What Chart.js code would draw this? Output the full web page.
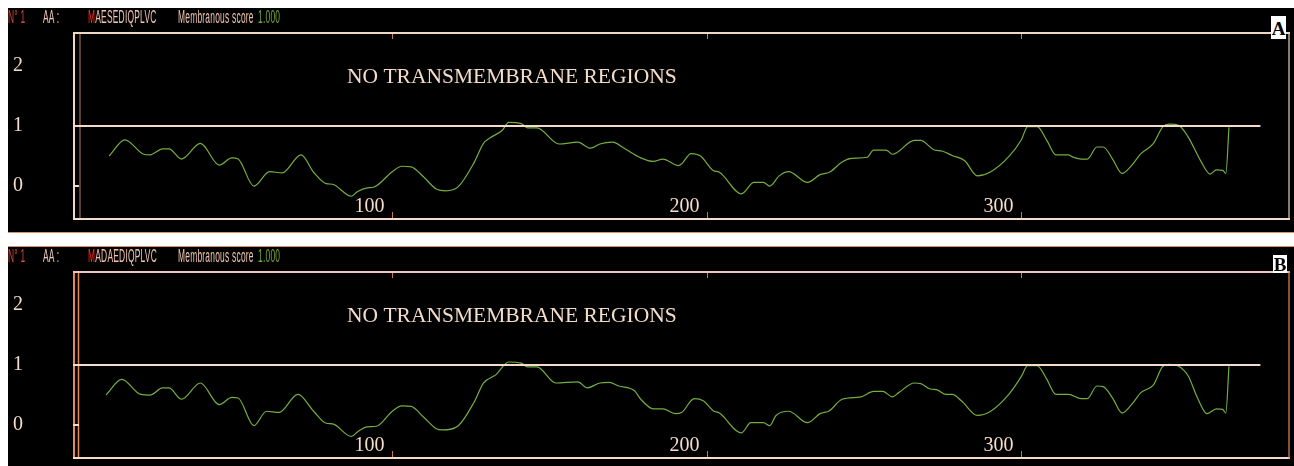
<!DOCTYPE html>
<html>
<head>
<meta charset="utf-8">
<script src="https://cdn.jsdelivr.net/npm/chart.js@4.4.1/dist/chart.umd.min.js"></script>
<style>
  html, body { margin: 0; padding: 0; background: #fff; width: 1294px; height: 466px; overflow: hidden; position: relative; }
  .panel { position: absolute; left: 8px; width: 1286px; background: #000; overflow: hidden; }
  #panelA { top: 8px; height: 224px; border-bottom: 1px solid #d98f6e; }
  #panelB { top: 246px; height: 220px; border-top: 1px solid #d98f6e; }
  .panel canvas { position: absolute; left: 0; top: 0; }
  .hdr { position: absolute; top: 1px; font-family: 'Liberation Sans', Arial, sans-serif; font-size: 17.5px; line-height: 1;
         transform: scaleX(0.48); transform-origin: 0 0; white-space: nowrap; letter-spacing: 0.5px; }
  .tag { position: absolute; background: #fff; color: #000; font-family: 'Liberation Serif', serif; font-weight: bold;
         font-size: 19px; text-align: center; z-index: 2; }
</style>
</head>
<body>
<div class="panel" id="panelA">
  <canvas id="chartA" width="1286" height="224"></canvas>
  <span class="hdr" style="left:0px;color:#d2453a">N° 1</span>
  <span class="hdr" style="left:35px;color:#f0c8c0">AA :</span>
  <span class="hdr" style="left:80px;color:#f2c4b4"><span style="color:#ff2a1a">M</span>AESEDIQPLVC</span>
  <span class="hdr" style="left:170px;color:#efc5b0">Membranous score</span>
  <span class="hdr" style="left:250px;color:#74a83c">1.000</span>
  <div class="tag" style="left:1263px;top:8px;width:15px;height:23px;line-height:26px">A</div>
</div>
<div class="panel" id="panelB">
  <canvas id="chartB" width="1286" height="224"></canvas>
  <span class="hdr" style="left:0px;color:#d2453a">N° 1</span>
  <span class="hdr" style="left:35px;color:#f0c8c0">AA :</span>
  <span class="hdr" style="left:80px;color:#f2c4b4"><span style="color:#ff2a1a">M</span>ADAEDIQPLVC</span>
  <span class="hdr" style="left:170px;color:#efc5b0">Membranous score</span>
  <span class="hdr" style="left:250px;color:#74a83c">1.000</span>
  <div class="tag" style="left:1265px;top:8px;width:14px;height:18px;line-height:20px">B</div>
</div>
<script>
// Hydropathy / membranous score profiles (residue position -> score)
const residuesA = [10, 15, 21, 23, 27, 29, 33, 39, 45, 49, 51, 56, 61, 65, 71, 75, 79, 81, 87, 89, 92, 94, 100, 103, 106, 110, 114, 117, 121, 126, 129, 131, 135, 137, 141, 143, 146, 153, 159, 163, 166, 170, 174, 179, 183, 186, 191, 192, 195, 198, 202, 204, 211, 215, 218, 220, 223, 226, 232, 236, 239, 243, 246, 251, 253, 257, 259, 266, 268, 272, 275, 278, 282, 286, 290, 296, 300, 302, 305, 308, 311, 315, 316, 319, 321, 324, 326, 329, 332, 335, 338, 342, 345, 347, 350, 353, 357, 360, 362, 364, 365, 366];
const scoresA = [0.50, 0.77, 0.53, 0.52, 0.62, 0.62, 0.45, 0.71, 0.35, 0.47, 0.45, 0.00, 0.24, 0.22, 0.52, 0.23, 0.04, 0.03, -0.17, -0.09, -0.03, -0.02, 0.24, 0.33, 0.32, 0.15, -0.05, -0.08, -0.01, 0.39, 0.71, 0.80, 0.93, 1.06, 1.04, 0.97, 0.97, 0.70, 0.73, 0.63, 0.70, 0.73, 0.62, 0.47, 0.41, 0.45, 0.34, 0.37, 0.54, 0.50, 0.26, 0.23, -0.13, 0.06, 0.06, 0.00, 0.17, 0.24, 0.06, 0.19, 0.23, 0.40, 0.46, 0.48, 0.60, 0.60, 0.53, 0.76, 0.76, 0.61, 0.58, 0.51, 0.42, 0.17, 0.23, 0.49, 0.77, 0.99, 0.99, 0.77, 0.52, 0.52, 0.49, 0.45, 0.45, 0.65, 0.65, 0.45, 0.21, 0.34, 0.54, 0.71, 0.99, 1.03, 1.01, 0.82, 0.42, 0.20, 0.27, 0.26, 0.21, 0.98];

const residuesB = [9, 14, 20, 23, 27, 29, 33, 39, 45, 49, 51, 56, 60, 64, 70, 75, 79, 81, 87, 89, 92, 95, 100, 103, 106, 110, 114, 116, 121, 126, 129, 133, 137, 141, 143, 146, 152, 159, 162, 166, 169, 172, 177, 179, 183, 186, 190, 192, 196, 199, 202, 204, 211, 214, 218, 220, 222, 226, 232, 236, 239, 243, 249, 253, 256, 259, 261, 266, 268, 271, 273, 276, 278, 281, 286, 290, 296, 300, 302, 305, 308, 311, 315, 319, 321, 324, 326, 329, 332, 335, 338, 342, 345, 347, 350, 353, 356, 359, 362, 364, 365, 366];
const scoresB = [0.50, 0.76, 0.51, 0.50, 0.62, 0.62, 0.43, 0.70, 0.34, 0.46, 0.45, -0.01, 0.23, 0.21, 0.51, 0.23, 0.03, 0.02, -0.19, -0.11, -0.03, -0.02, 0.23, 0.32, 0.31, 0.13, -0.06, -0.08, -0.01, 0.38, 0.70, 0.84, 1.05, 1.03, 0.97, 0.97, 0.70, 0.72, 0.62, 0.70, 0.71, 0.65, 0.57, 0.43, 0.27, 0.27, 0.19, 0.21, 0.44, 0.40, 0.24, 0.20, -0.13, 0.04, 0.04, -0.01, 0.16, 0.23, 0.04, 0.19, 0.24, 0.43, 0.47, 0.56, 0.56, 0.47, 0.54, 0.70, 0.69, 0.60, 0.59, 0.51, 0.51, 0.40, 0.16, 0.22, 0.51, 0.81, 0.99, 0.99, 0.77, 0.51, 0.51, 0.44, 0.44, 0.65, 0.64, 0.45, 0.20, 0.34, 0.54, 0.67, 0.98, 1.01, 0.98, 0.82, 0.45, 0.19, 0.27, 0.26, 0.20, 0.98];

const yTickValues = [0, 1, 2];
const xTickValues = [100, 200, 300];
const threshold = 1.0;
const seqLength = 376;
const noteText = 'NO TRANSMEMBRANE REGIONS';

// axis ranges
const xMin = -1.5, xMax = 385.4;
const yMin = -0.565, yMax = 2.565;

const CREAM = '#f4dccb';
const SERIF = "'Liberation Serif', 'Times New Roman', serif";

function line(ctx, x1, y1, x2, y2) {
  ctx.beginPath(); ctx.moveTo(x1, y1); ctx.lineTo(x2, y2); ctx.stroke();
}

// frame around the plot, inner rule, tick marks, axis numbers and note
const framePlugin = {
  id: 'profileFrame',
  beforeDatasetsDraw(chart, args, o) {
    const { ctx, chartArea: a } = chart;
    ctx.save();
    ctx.strokeStyle = o.innerColor; ctx.lineWidth = 1.5;
    line(ctx, a.left + o.innerOffset, a.top, a.left + o.innerOffset, a.bottom);
    ctx.strokeStyle = o.frameColor; ctx.lineWidth = 2;
    line(ctx, a.left + 1, a.top, a.left + 1, a.bottom);
    ctx.strokeStyle = o.topColor;
    line(ctx, a.left, a.top + 1, a.right, a.top + 1);
    ctx.strokeStyle = CREAM;
    line(ctx, a.left, a.bottom - 1, a.right, a.bottom - 1);
    ctx.lineWidth = 1.2; ctx.strokeStyle = o.rightColor;
    line(ctx, a.right - 1, a.top, a.right - 1, a.bottom);
    ctx.restore();
  },
  afterDatasetsDraw(chart, args, o) {
    const { ctx, chartArea: a, scales: { x, y } } = chart;
    ctx.save();
    ctx.lineWidth = 1; ctx.strokeStyle = o.tickColor;
    ctx.fillStyle = CREAM;
    ctx.font = '20px ' + SERIF;
    ctx.textAlign = 'right'; ctx.textBaseline = 'alphabetic';
    xTickValues.forEach(v => {
      const px = Math.round(x.getPixelForValue(v)) + 0.5;
      line(ctx, px, a.bottom - 2, px, a.bottom - 8);
      line(ctx, px, a.top + 2, px, a.top + 7);
      ctx.fillText(String(v), px - 8, a.bottom - 8);
    });
    ctx.strokeStyle = CREAM; ctx.lineWidth = 2;
    const py = Math.round(y.getPixelForValue(0));
    line(ctx, a.left, py, a.left + 6, py);
    ctx.font = '21.5px ' + SERIF;
    ctx.textAlign = 'left';
    ctx.fillText(noteText, a.left + 274, a.top + 51);
    ctx.restore();
  }
};

function makeProfile(canvasId, residues, scores, frameOpts) {
  return new Chart(document.getElementById(canvasId), {
    type: 'line',
    data: {
      datasets: [
        {
          data: [{ x: xMin, y: threshold }, { x: seqLength, y: threshold }],
          borderColor: CREAM, borderWidth: 2, pointRadius: 0
        },
        {
          data: residues.map((r, i) => ({ x: r, y: scores[i] })),
          borderColor: '#74ad40', borderWidth: 1.2, pointRadius: 0,
          cubicInterpolationMode: 'monotone'
        }
      ]
    },
    options: {
      responsive: false,
      devicePixelRatio: 1,
      animation: false,
      events: [],
      layout: { padding: { left: 5, top: 24, right: 4, bottom: 6 } },
      plugins: {
        legend: { display: false },
        tooltip: { enabled: false },
        profileFrame: frameOpts
      },
      scales: {
        x: { type: 'linear', min: xMin, max: xMax, display: false },
        y: {
          type: 'linear', position: 'left', min: yMin, max: yMax,
          afterBuildTicks: s => { s.ticks = yTickValues.map(v => ({ value: v })); },
          afterFit: s => { s.width = 60; },
          grid: { display: false, drawTicks: false },
          border: { display: false },
          ticks: { crossAlign: 'far', padding: 0, color: CREAM, font: { family: SERIF, size: 20 } }
        }
      }
    },
    plugins: [framePlugin]
  });
}

makeProfile('chartA', residuesA, scoresA, {
  frameColor: '#f0d6c4', innerColor: '#7d5142', topColor: '#f0d6c4', rightColor: '#e8cfc0',
  tickColor: '#c9785a', innerOffset: 7
});
makeProfile('chartB', residuesB, scoresB, {
  frameColor: '#e08a62', innerColor: '#e08a62', topColor: '#efc8b4', rightColor: '#e08a62',
  tickColor: '#c9785a', innerOffset: 5.5
});
</script>
</body>
</html>
